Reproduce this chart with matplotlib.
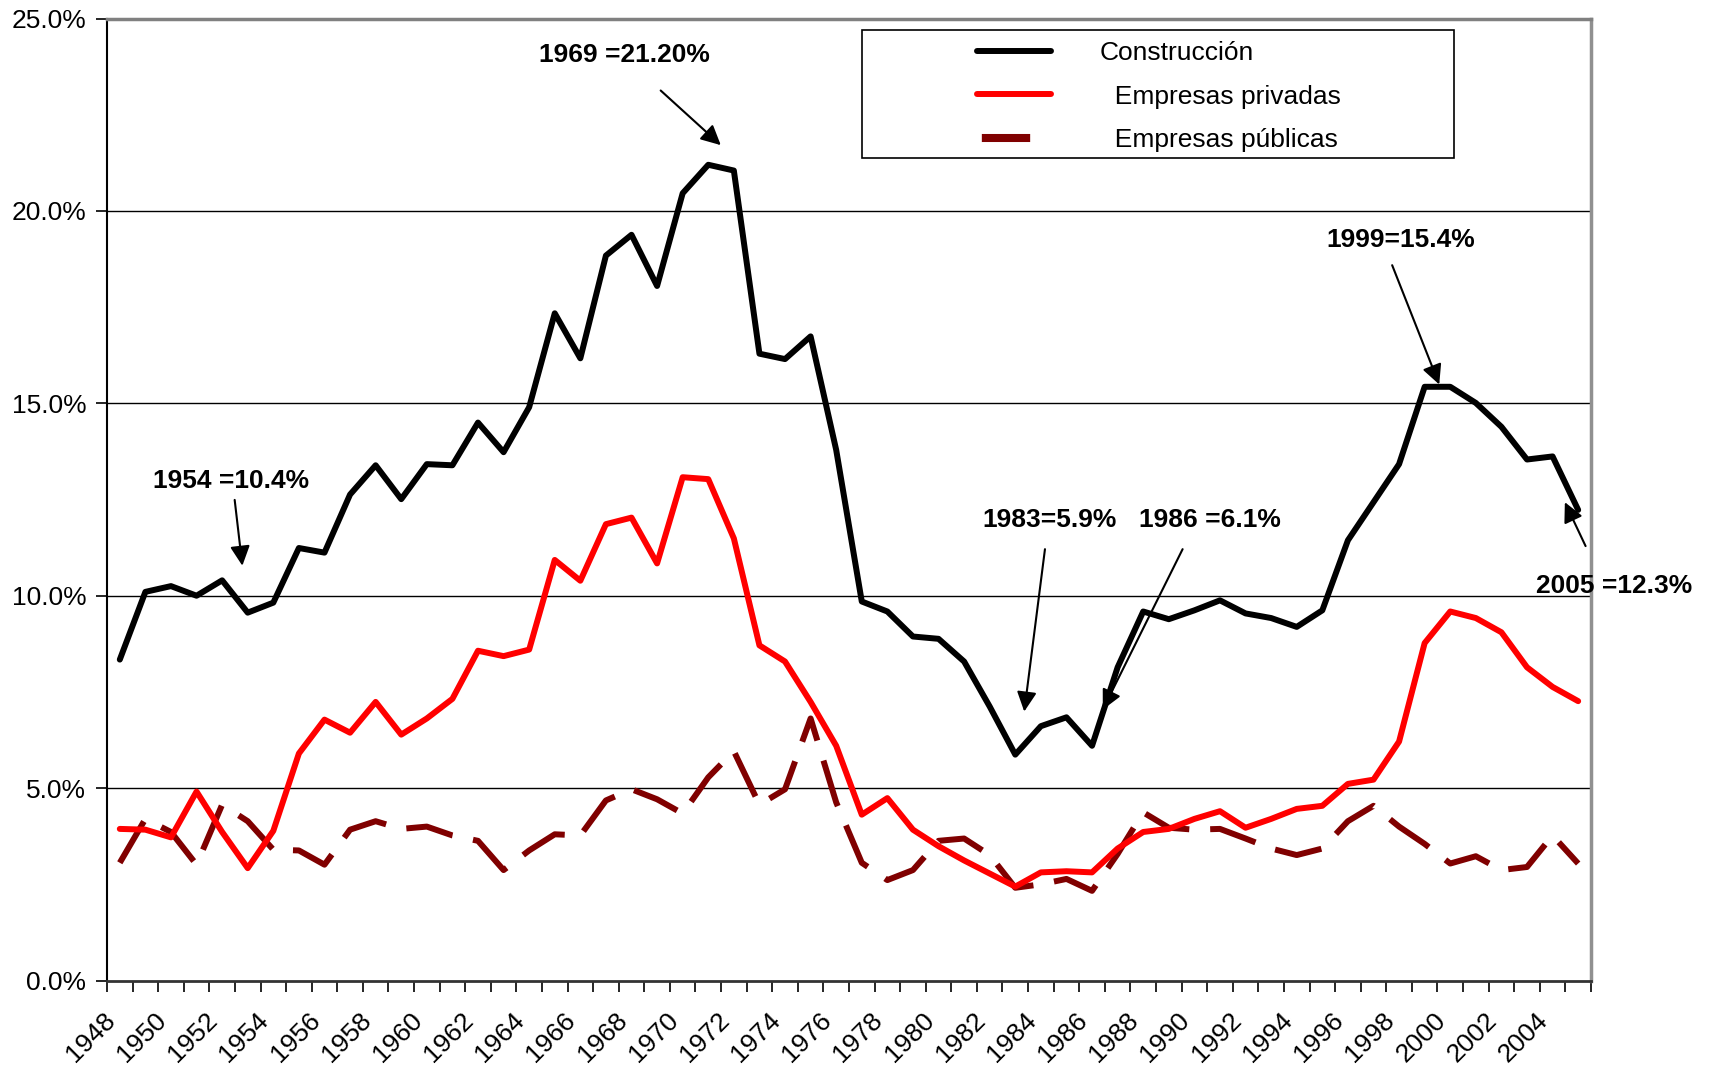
import numpy as np
import matplotlib
matplotlib.use("Agg")
import matplotlib.pyplot as plt
import matplotlib.transforms as mtransforms
from matplotlib.patches import Rectangle
from matplotlib.lines import Line2D

plt.rcParams['font.family'] = ['Liberation Sans', 'DejaVu Sans']

anios = list(range(1948, 2006))

construccion = [
    8.34, 10.10, 10.25, 10.00, 10.40, 9.56, 9.82, 11.24, 11.12, 12.63,
    13.39, 12.51, 13.42, 13.39, 14.50, 13.73, 14.90, 17.34, 16.17, 18.84,
    19.38, 18.05, 20.46, 21.20, 21.05, 16.29, 16.15, 16.74, 13.79, 9.85,
    9.59, 8.94, 8.88, 8.29, 7.12, 5.87, 6.61, 6.84, 6.10, 8.14,
    9.59, 9.39, 9.62, 9.88, 9.54, 9.42, 9.19, 9.62, 11.44, 12.43,
    13.42, 15.43, 15.43, 15.01, 14.39, 13.54, 13.62, 12.23,
]

privadas = [
    3.94, 3.92, 3.72, 4.91, 3.86, 2.92, 3.89, 5.90, 6.78, 6.44,
    7.24, 6.39, 6.81, 7.32, 8.57, 8.43, 8.60, 10.93, 10.39, 11.86,
    12.03, 10.84, 13.08, 13.03, 11.49, 8.71, 8.29, 7.24, 6.10, 4.31,
    4.74, 3.92, 3.49, 3.12, 2.78, 2.44, 2.81, 2.84, 2.81, 3.43,
    3.86, 3.94, 4.20, 4.40, 3.97, 4.20, 4.46, 4.54, 5.11, 5.22,
    6.21, 8.77, 9.59, 9.42, 9.05, 8.14, 7.63, 7.26,
]

publicas = [
    3.06, 4.20, 3.86, 3.01, 4.57, 4.14, 3.40, 3.38, 3.01, 3.92,
    4.14, 3.94, 4.00, 3.77, 3.63, 2.87, 3.38, 3.80, 3.77, 4.68,
    4.97, 4.71, 4.34, 5.28, 5.96, 4.57, 4.97, 6.81, 4.63, 3.06,
    2.61, 2.87, 3.63, 3.69, 3.26, 2.41, 2.50, 2.64, 2.33, 3.29,
    4.37, 3.97, 3.92, 3.94, 3.69, 3.43, 3.26, 3.43, 4.14, 4.54,
    4.00, 3.55, 3.04, 3.23, 2.87, 2.95, 3.77, 3.04,
]

y_ticks = [0, 5, 10, 15, 20, 25]

# (texto, inicio flecha x, y, punta x, y, texto x, y) en indice de anio / %
notas = [
    ("1954 =10.4%", 4.49, 12.49, 4.79, 10.78, 4.34, 12.97),
    ("1969 =21.20%", 21.14, 23.13, 23.49, 21.71, 19.71, 24.06),
    ("1999=15.4%", 49.73, 18.59, 51.57, 15.49, 50.05, 19.24),
    ("1983=5.9%", 36.16, 11.21, 35.35, 6.99, 36.33, 11.98),
    ("1986 =6.1%", 41.54, 11.21, 38.42, 7.04, 42.59, 11.98),
    ("2005 =12.3%", 57.29, 11.29, 56.48, 12.43, 58.42, 10.24),
]

fig = plt.figure(figsize=(17.12, 10.66), dpi=100)
ax = fig.add_axes([0.0625, 0.0802, 0.8668, 0.9024])

x = np.arange(len(anios))
lw = 4.3
ax.plot(x, construccion, color='black', lw=lw, solid_capstyle='round', zorder=4)
ax.plot(x, privadas, color='#FF0000', lw=lw, solid_capstyle='round', zorder=3)
ax.plot(x, publicas, color='#800000', lw=lw, dashes=(8, 3.5), zorder=2)

ax.set_xlim(-0.5, len(anios) - 0.5)
ax.set_ylim(0, 25)

ax.set_yticks(y_ticks)
ax.set_yticklabels([f"{v:.1f}%" for v in y_ticks], fontsize=19)
ax.tick_params(axis='y', length=8, width=1.2, pad=7, direction='out')
for v in y_ticks[1:-1]:
    ax.axhline(v, color='black', lw=1, zorder=1)

ax.set_xticks(x[::2])
ax.set_xticklabels([str(a) for a in anios[::2]], rotation=45, fontsize=19,
                   ha='right', va='center', rotation_mode='anchor')
ax.set_xticks(np.arange(-0.5, len(anios)), minor=True)
ax.tick_params(axis='x', which='major', length=0, pad=26)
ax.tick_params(axis='x', which='minor', length=8, width=1.2, direction='out')
desplaza = mtransforms.ScaledTranslation(-6 / 72, 0, fig.dpi_scale_trans)
for lab in ax.get_xticklabels():
    lab.set_transform(lab.get_transform() + desplaza)

ax.spines['left'].set_color('black')
ax.spines['left'].set_linewidth(1.5)
ax.spines['bottom'].set_color('#333333')
ax.spines['bottom'].set_linewidth(2)
ax.spines['top'].set_color('#808080')
ax.spines['top'].set_linewidth(2.5)
ax.spines['right'].set_color('#909090')
ax.spines['right'].set_linewidth(2.5)

for texto, x0, y0, x1, y1, xt, yt in notas:
    ax.annotate('', xy=(x1, y1), xytext=(x0, y0),
                arrowprops=dict(arrowstyle='-|>', color='black', lw=1.5,
                                mutation_scale=30, shrinkA=0, shrinkB=0),
                annotation_clip=False, zorder=6)
    ax.text(xt, yt, texto, fontsize=19, fontweight='bold', ha='center',
            va='center', zorder=7, clip_on=False)

# marco de la leyenda
ax.add_patch(Rectangle((0.509, 0.855), 0.399, 0.1336, transform=ax.transAxes,
                       facecolor='white', edgecolor='black', lw=1.2, zorder=8))
handles = [
    Line2D([], [], color='black', lw=lw, solid_capstyle='round'),
    Line2D([], [], color='#FF0000', lw=lw, solid_capstyle='round'),
    Line2D([], [], color='#800000', lw=lw + 1.5, linestyle=(25.4, (6, 20))),
]
labels = ['Construcción', '  Empresas privadas', '  Empresas públicas']
leg = ax.legend(handles, labels, loc='upper left', bbox_to_anchor=(0.5774, 0.99),
                frameon=False, fontsize=19, handlelength=2.8, handletextpad=1.85,
                labelspacing=0.73, borderpad=0.0)
leg.set_zorder(9)

fig.savefig('out.png', dpi=100)
